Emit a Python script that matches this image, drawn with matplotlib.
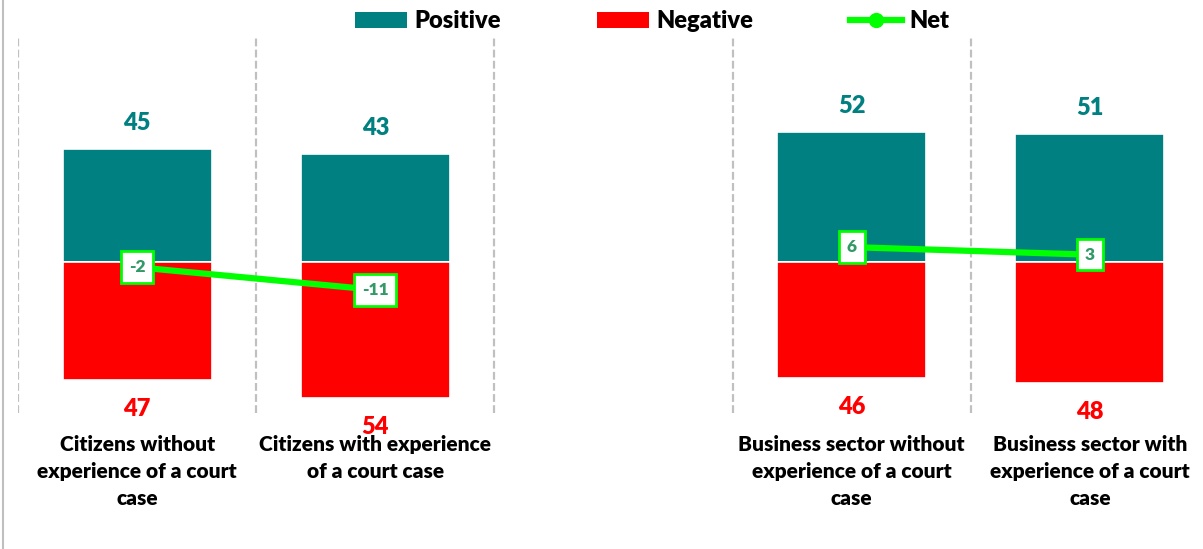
import numpy as np
import matplotlib.pyplot as plt
from matplotlib.patches import Patch
from matplotlib.lines import Line2D

plt.rcParams['font.family'] = ['Lato', 'DejaVu Sans']
plt.rcParams['font.weight'] = 'heavy'

# Datos (la posicion 2 queda vacia como separador)
categories = ['Citizens without\nexperience of a court\ncase',
              'Citizens with experience\nof a court case',
              '',
              'Business sector without\nexperience of a court\ncase',
              'Business sector with\nexperience of a court\ncase']
positive = [45, 43, np.nan, 52, 51]
negative = [47, 54, np.nan, 46, 48]
net = [-2, -11, np.nan, 6, 3]

teal = '#008080'
red = '#FF0000'
lime = '#00FF00'
W = 'heavy'

fig = plt.figure(figsize=(12.03, 5.49), dpi=100)
ax = fig.add_axes([18/1203, 136/549, 1191/1203, 377/549])

x = np.arange(len(categories))
ok = [i for i in x if not np.isnan(positive[i])]
pos = [positive[i] for i in ok]
neg = [-negative[i] for i in ok]

ax.bar(ok, pos, width=0.625, color=teal, edgecolor='white', linewidth=1.2, zorder=2)
ax.bar(ok, neg, width=0.625, color=red, edgecolor='white', linewidth=1.2, zorder=2)

# Lineas verticales punteadas entre categorias
ax.vlines(np.arange(-0.5, len(categories), 1), -60, 90, colors='#c0c0c0',
          linewidth=1.6, linestyles=(0, (3.5, 1.5)), zorder=1)

# Etiquetas de valores
for i in ok:
    ax.annotate(str(positive[i]), xy=(i, positive[i]), xytext=(0, 26),
                textcoords='offset pixels', ha='center', va='center',
                color=teal, fontsize=17, fontweight=W)
    ax.annotate(str(negative[i]), xy=(i, -negative[i]), xytext=(0, -29),
                textcoords='offset pixels', ha='center', va='center',
                color=red, fontsize=17, fontweight=W)

# Linea del neto
ax.plot(x, net, color=lime, linewidth=4.5, zorder=3, solid_capstyle='butt')
for i in ok:
    ax.text(i, net[i], str(net[i]), ha='center', va='center', fontsize=12.5,
            fontweight=W, color='#339966', zorder=4,
            bbox=dict(boxstyle='square,pad=0.45', fc='white', ec=lime, lw=2))

ax.set_xlim(-0.5, 4.5)
ax.set_ylim(-60, 90)
ax.set_xticks(x, categories, fontsize=15, fontweight=W, linespacing=1.5)
ax.tick_params(axis='x', length=0, pad=16)
ax.set_yticks([])
for s in ax.spines.values():
    s.set_visible(False)

handles = [Patch(facecolor=teal, label='Positive'),
           Patch(facecolor=red, label='Negative'),
           Line2D([], [], color=lime, lw=4.5, marker='o', markersize=10, label='Net')]
fig.legend(handles=handles, loc='center left', bbox_to_anchor=(355/1203, 1 - 21/549),
           ncol=3, frameon=False, prop={'weight': W, 'size': 17},
           handlelength=2.2, handleheight=0.65, handletextpad=0.3,
           columnspacing=4.1, borderpad=0, borderaxespad=0)

fig.add_artist(Line2D([3/1203, 3/1203], [0, 1], color='#bfbfbf', lw=1.5))

plt.savefig('out.png', dpi=100)
